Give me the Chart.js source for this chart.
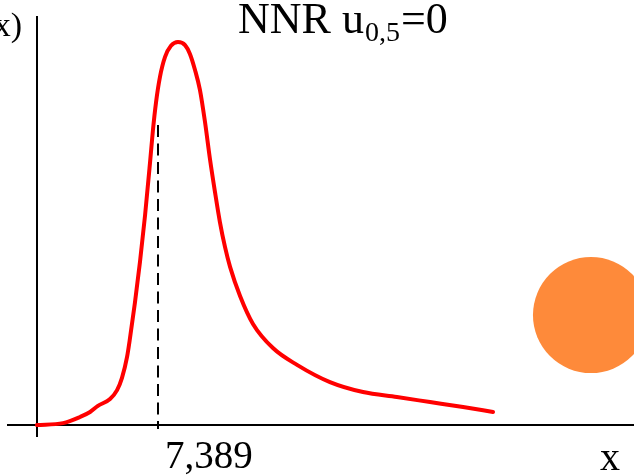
<!DOCTYPE html>
<html>
<head>
<meta charset="utf-8">
<script src="https://cdn.jsdelivr.net/npm/chart.js@4.4.1/dist/chart.umd.min.js"></script>
<style>
  html, body { margin: 0; padding: 0; background: #fff; }
  #wrap { width: 634px; height: 476px; }
</style>
</head>
<body>
<div id="wrap"><canvas id="nnrChart"></canvas></div>
<script>
// curve (x in data units, y as density)
const curveX = [0, 1.59, 2.63, 3.24, 3.72, 4.46, 4.89, 5.19, 5.50, 5.68, 5.98, 6.29, 6.60, 6.90, 7.08, 7.27, 7.51, 7.82, 8.18, 8.61,
    9.04, 9.34, 9.65, 9.95, 10.26, 10.56, 10.87, 11.17, 11.48, 11.79, 12.40, 13.19, 14.41, 15.88, 17.89, 19.91, 21.98, 24.00, 26.02, 27.85];
const curveY = [0, 0.0005, 0.0021, 0.0034, 0.0050, 0.0068, 0.0091, 0.0123, 0.0178, 0.0227, 0.0319, 0.0426, 0.0548, 0.0684, 0.0770, 0.0843, 0.0909, 0.0961, 0.0990, 0.1000,
    0.0992, 0.0969, 0.0927, 0.0875, 0.0791, 0.0695, 0.0608, 0.0530, 0.0465, 0.0413, 0.0337, 0.0264, 0.0201, 0.0157, 0.0112, 0.0086, 0.0073, 0.0060, 0.0047, 0.0034];

const medianX = 7.389;
const medianTop = 0.0783;
const medianLabel = '7,389';
const markerPoint = [{ x: 33.83, y: 0.0287 }];

const xRange = [-1.832, 36.458];
const yRange = [-0.00313, 0.10679];

const serif = "'Liberation Serif', 'DejaVu Serif', serif";

const sketchPlugin = {
    id: 'sketch',
    beforeDatasetsDraw(chart) {
        const c = chart.ctx;
        const xs = chart.scales.x, ys = chart.scales.y;
        const x0 = Math.round(xs.getPixelForValue(0));
        const y0 = Math.round(ys.getPixelForValue(0));
        c.save();
        c.strokeStyle = '#000';
        c.lineWidth = 2;
        c.beginPath();
        c.moveTo(chart.chartArea.left, y0);
        c.lineTo(chart.chartArea.right, y0);
        c.moveTo(x0, chart.chartArea.top);
        c.lineTo(x0, chart.chartArea.bottom);
        c.stroke();

        // dashed median line
        const xm = Math.round(xs.getPixelForValue(medianX));
        c.setLineDash([12, 6.5]);
        c.beginPath();
        c.moveTo(xm, ys.getPixelForValue(medianTop));
        c.lineTo(xm, y0 + 4);
        c.stroke();
        c.restore();
    },
    afterDraw(chart) {
        const c = chart.ctx;
        c.save();
        c.fillStyle = '#000';
        c.textBaseline = 'alphabetic';

        // title with subscript
        c.textAlign = 'left';
        let tx = 238;
        c.font = '44px ' + serif;
        c.fillText('NNR u', tx, 33);
        tx += c.measureText('NNR u').width + 1;
        c.font = '28px ' + serif;
        c.fillText('0,5', tx, 41);
        tx += c.measureText('0,5').width + 1;
        c.font = '44px ' + serif;
        c.fillText('=0', tx, 33);

        // y label (cut off at the left edge)
        c.textAlign = 'right';
        c.font = '34px ' + serif;
        c.fillText('f(x)', 22, 36);

        // median tick label
        c.textAlign = 'left';
        c.font = '39px ' + serif;
        c.fillText(medianLabel, 165, 468);

        // x label
        c.font = '40px ' + serif;
        c.fillText('x', 600, 470);
        c.restore();
    }
};

new Chart(document.getElementById('nnrChart'), {
    type: 'scatter',
    data: {
        datasets: [{
            data: curveX.map((x, i) => ({ x: x, y: curveY[i] })),
            showLine: true,
            borderColor: '#ff0000',
            borderWidth: 4,
            borderCapStyle: 'round',
            borderJoinStyle: 'round',
            cubicInterpolationMode: 'monotone',
            pointRadius: 0,
            fill: false
        }, {
            data: markerPoint,
            pointRadius: 58,
            pointBackgroundColor: '#fe8a3a',
            pointBorderWidth: 0,
            borderColor: 'transparent'
        }]
    },
    options: {
        responsive: true,
        maintainAspectRatio: false,
        animation: false,
        layout: { autoPadding: false, padding: { left: 7, right: 0, top: 16, bottom: 39 } },
        scales: {
            x: { type: 'linear', min: xRange[0], max: xRange[1], display: false },
            y: { type: 'linear', min: yRange[0], max: yRange[1], display: false }
        },
        plugins: {
            legend: { display: false },
            tooltip: { enabled: false }
        },
        clip: false
    },
    plugins: [sketchPlugin]
});
</script>
</body>
</html>
